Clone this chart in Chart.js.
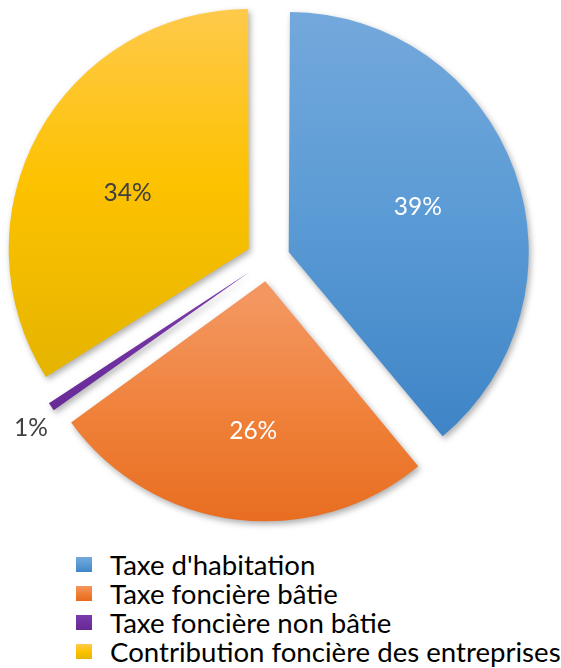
<!DOCTYPE html>
<html>
<head>
<meta charset="utf-8">
<script src="https://cdn.jsdelivr.net/npm/chart.js@4/dist/chart.umd.min.js"></script>
<style>
  html, body { margin: 0; padding: 0; background: #ffffff; width: 561px; height: 668px; overflow: hidden; }
  #wrap { position: relative; width: 561px; height: 668px; }
  #pie { position: absolute; left: 0; top: 0; }
  #legend { position: absolute; left: 76px; top: 550px; margin: 0; padding: 0; list-style: none;
            font-family: Lato, "Open Sans", sans-serif; font-size: 27.6px; color: #000; }
  #legend li { display: flex; align-items: center; height: 29px; line-height: 29px; white-space: nowrap; }
  #legend .box { width: 16px; height: 15px; margin-right: 18px; flex: none; }
</style>
</head>
<body>
<div id="wrap">
  <canvas id="pie" width="561" height="540"></canvas>
  <ul id="legend"></ul>
</div>
<script>
// Répartition du produit fiscal par taxe (en %)
const categories = [
  "Taxe d'habitation",
  "Taxe foncière bâtie",
  "Taxe foncière non bâtie",
  "Contribution foncière des entreprises"
];
const shares = [39, 26, 1, 34];

// Slice fills: light top, base middle, darker bottom
const topColors    = ['#74a9dc', '#f3965f', '#7b3dac', '#ffca50'];
const midColors    = ['#5b9bd5', '#ef7f37', '#7030a0', '#fdc200'];
const bottomColors = ['#3f85c7', '#e66a1c', '#652a94', '#e6b500'];
const labelColors  = ['#ffffff', '#ffffff', '#404040', '#404040'];
// placement of each percentage label: distance from the slice tip (fraction of the radius)
// and a small turn (degrees) away from the slice's middle angle
const labelRadius  = [0.57, 0.625, 1.12, 0.555];
const labelTurn    = [0.6, -2.6, -1.3, -4.2];

const PIE_RADIUS = 240;
const EXPLODE = 88;          // Chart.js moves each slice by offset / 4

// Keep every exploded slice at the same radius and give it its own vertical gradient
const explodePlugin = {
  id: 'explodeSlices',
  afterDatasetUpdate(chart, args) {
    const ctx = chart.ctx;
    args.meta.data.forEach((arc, i) => {
      const shift = (arc.options.offset || 0) / 4;
      const fix = 1 - Math.sin(Math.min(Math.PI, arc.circumference));
      arc.outerRadius = PIE_RADIUS - shift * fix;
      const mid = (arc.startAngle + arc.endAngle) / 2;
      const ay = arc.y + Math.sin(mid) * shift;
      const R = PIE_RADIUS;
      const ys = [ay, ay + Math.sin(arc.startAngle) * R, ay + Math.sin(arc.endAngle) * R];
      [-Math.PI / 2, Math.PI / 2, 3 * Math.PI / 2].forEach(a => {
        if (a >= arc.startAngle && a <= arc.endAngle) ys.push(ay + Math.sin(a) * R);
      });
      const y0 = Math.min(...ys), y1 = Math.max(...ys);
      const g = ctx.createLinearGradient(0, y0, 0, y1);
      g.addColorStop(0, topColors[i]);
      g.addColorStop(0.5, midColors[i]);
      g.addColorStop(1, bottomColors[i]);
      const opts = Object.create(arc.options);
      opts.backgroundColor = g;
      arc.options = opts;
    });
  },
  beforeDatasetDraw(chart) {
    const ctx = chart.ctx;
    ctx.save();
    ctx.shadowColor = 'rgba(0,0,0,0.32)';
    ctx.shadowBlur = 6;
    ctx.shadowOffsetX = 2;
    ctx.shadowOffsetY = 3;
  },
  afterDatasetDraw(chart) {
    chart.ctx.restore();
  },
  afterDatasetsDraw(chart) {
    const ctx = chart.ctx;
    const meta = chart.getDatasetMeta(0);
    ctx.save();
    ctx.font = '24.5px Lato, "Open Sans", sans-serif';
    ctx.textAlign = 'center';
    ctx.textBaseline = 'middle';
    meta.data.forEach((arc, i) => {
      const shift = (arc.options.offset || 0) / 4;
      const mid = (arc.startAngle + arc.endAngle) / 2;
      const ax = arc.x + Math.cos(mid) * shift;
      const ay = arc.y + Math.sin(mid) * shift;
      const a = mid + labelTurn[i] * Math.PI / 180;
      const r = labelRadius[i] * PIE_RADIUS;
      ctx.fillStyle = labelColors[i];
      ctx.fillText(chart.data.datasets[0].data[i] + '%', ax + Math.cos(a) * r, ay + Math.sin(a) * r);
    });
    ctx.restore();
  }
};

const chart = new Chart(document.getElementById('pie'), {
  type: 'pie',
  data: {
    labels: categories,
    datasets: [{
      data: shares,
      backgroundColor: midColors,
      borderWidth: 0,
      offset: EXPLODE,
      hoverOffset: 0
    }]
  },
  options: {
    responsive: false,
    animation: false,
    events: [],
    radius: PIE_RADIUS,
    layout: { padding: { left: 0, right: 25, top: 0, bottom: 21 } },
    plugins: {
      legend: { display: false },
      tooltip: { enabled: false }
    }
  },
  plugins: [explodePlugin]
});

// Legend below the pie
const legendEl = document.getElementById('legend');
chart.data.labels.forEach((label, i) => {
  const li = document.createElement('li');
  const box = document.createElement('span');
  box.className = 'box';
  box.style.background = 'linear-gradient(' + topColors[i] + ', ' + midColors[i] + ' 50%, ' + bottomColors[i] + ')';
  const txt = document.createElement('span');
  txt.textContent = label;
  li.appendChild(box);
  li.appendChild(txt);
  legendEl.appendChild(li);
});
</script>
</body>
</html>
